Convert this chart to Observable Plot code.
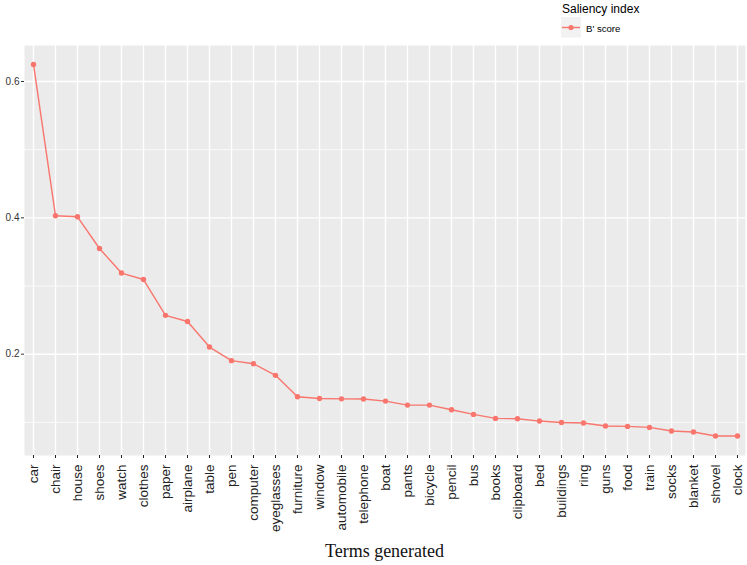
<!DOCTYPE html>
<html>
<head>
<meta charset="utf-8">
<script src="https://cdn.jsdelivr.net/npm/d3@7"></script>
<script src="https://cdn.jsdelivr.net/npm/@observablehq/plot@0.6"></script>
<style>
  html, body { margin: 0; padding: 0; background: #fff; }
  #wrap { width: 747px; height: 565px; position: relative; overflow: hidden; }
  #title { width: 747px; height: 25px; position: relative; }
  #title div { position: absolute; left: 24px; width: 721px; top: 0; text-align: center;
    font-family: "Liberation Serif", "Times New Roman", serif; font-size: 18px; line-height: 22px; color: #111; }
</style>
</head>
<body>
<div id="wrap">
  <svg id="legend" width="747" height="45" style="display:block">
    <text x="562" y="13" font-family="Liberation Sans, Arial, sans-serif" font-size="12" fill="#000">Saliency index</text>
    <rect x="561" y="17" width="20" height="20.5" fill="#F2F2F2"></rect>
    <line x1="562" x2="580" y1="27.5" y2="27.5" stroke="#F8766D" stroke-width="1.4"></line>
    <circle cx="571" cy="27.5" r="2.6" fill="#F8766D"></circle>
    <text x="586" y="31.5" font-family="Liberation Sans, Arial, sans-serif" font-size="9.6" fill="#000">B' score</text>
  </svg>
  <div id="chart"></div>
  <div id="title"><div>Terms generated</div></div>
</div>
<script>
const terms = ["car","chair","house","shoes","watch","clothes","paper","airplane","table","pen",
  "computer","eyeglasses","furniture","window","automobile","telephone","boat","pants","bicycle",
  "pencil","bus","books","clipboard","bed","buildings","ring","guns","food","train","socks",
  "blanket","shovel","clock"];
const bScore = [0.625,0.403,0.4015,0.355,0.319,0.3095,0.257,0.248,0.2105,0.1905,
  0.186,0.169,0.1375,0.135,0.1345,0.1343,0.1312,0.1253,0.1253,
  0.1185,0.1117,0.1058,0.1053,0.1019,0.0999,0.0990,0.0946,0.0941,0.0926,0.0873,
  0.0858,0.0800,0.0800];
const majorTicks = [0.2, 0.4, 0.6];
const minorTicks = [0.1, 0.3, 0.5];
const yDomain = [0.0514, 0.6528];

const data = terms.map((t, i) => ({term: t, value: bScore[i]}));
const col = "#F8766D";

const chart = Plot.plot({
  width: 747,
  height: 495,
  marginTop: 0,
  marginRight: 2,
  marginBottom: 85,
  marginLeft: 24,
  style: {fontFamily: "Liberation Sans, Arial, sans-serif", background: "transparent"},
  x: {type: "point", domain: terms, padding: 0.3},
  y: {domain: yDomain},
  marks: [
    Plot.frame({fill: "#EBEBEB", stroke: null}),
    Plot.gridY(minorTicks, {stroke: "#fff", strokeOpacity: 1, strokeWidth: 0.7}),
    Plot.gridY(majorTicks, {stroke: "#fff", strokeOpacity: 1, strokeWidth: 1.4}),
    Plot.gridX(terms, {stroke: "#fff", strokeOpacity: 1, strokeWidth: 1.4}),
    Plot.axisY(majorTicks, {tickSize: 3, tickPadding: 2, fontSize: 10, color: "#333", label: null, tickFormat: d3.format(".1f")}),
    Plot.axisX({tickSize: 3, tickPadding: 6, tickRotate: -90, fontSize: 13.5, color: "#222", label: null}),
    Plot.line(data, {x: "term", y: "value", stroke: col, strokeWidth: 1.4}),
    Plot.dot(data, {x: "term", y: "value", fill: col, r: 2.7})
  ]
});
document.getElementById("chart").appendChild(chart);
</script>
</body>
</html>
